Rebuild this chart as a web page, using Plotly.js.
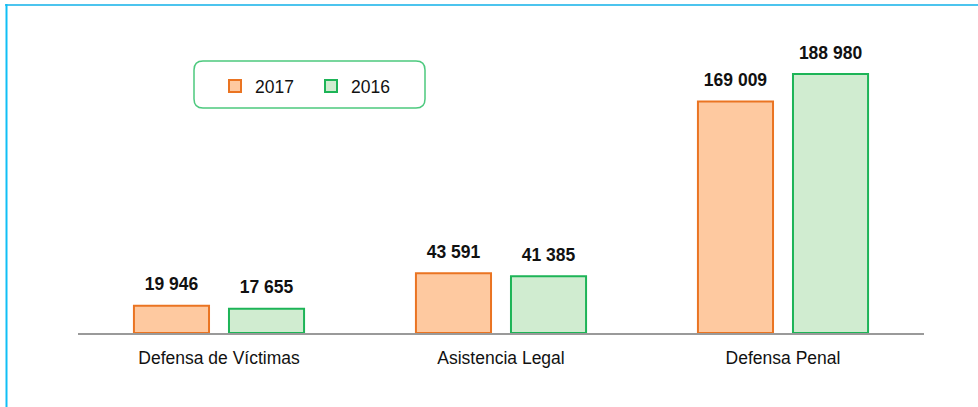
<!DOCTYPE html>
<html>
<head>
<meta charset="utf-8">
<script src="https://cdn.plot.ly/plotly-3.0.1.min.js"></script>
<style>
html,body{margin:0;padding:0;background:#fff;}
#chart{width:978px;height:407px;}
</style>
</head>
<body>
<div id="chart"></div>
<script>
const categories = ["Defensa de Víctimas", "Asistencia Legal", "Defensa Penal"];
const series2017 = [19946, 43591, 169009];
const series2016 = [17655, 41385, 188980];
const seriesNames = ["2017", "2016"];

function fmt(v) {
  return String(v).replace(/\B(?=(\d{3})+(?!\d))/g, " ");
}

const FONT = "Liberation Sans, Arial, sans-serif";
const FS = 17.5;

const bar2017 = {
  type: "bar", name: seriesNames[0], x: categories, y: series2017,
  offsetgroup: "a",
  marker: { color: "#fec9a0", line: { color: "#ea7422", width: 2 } },
  hoverinfo: "skip"
};
const bar2016 = {
  type: "bar", name: seriesNames[1], x: categories, y: series2016,
  offsetgroup: "b",
  marker: { color: "#d0ecd0", line: { color: "#1db457", width: 2 } },
  hoverinfo: "skip"
};
function labelTrace(vals, grp) {
  return {
    type: "scatter", mode: "markers+text", x: categories, y: vals,
    offsetgroup: grp,
    text: vals.map(v => "<b>" + fmt(v) + "</b>"),
    textposition: "top center",
    textfont: { family: FONT, size: FS, color: "#111" },
    marker: { size: 16, color: "rgba(0,0,0,0)" },
    showlegend: false, hoverinfo: "skip", cliponaxis: false
  };
}

// plot area px: x 78..924, y 33..333
const PL = 78, PW = 846, PT = 33, PH = 300;
const px = v => (v - PL) / PW;
const py = v => (PT + PH - v) / PH;

function roundRect(x0, y0, x1, y1, r) {
  const X0 = px(x0), X1 = px(x1), Y0 = py(y0), Y1 = py(y1);
  const rx = r / PW, ry = r / PH;
  return `M${X0+rx},${Y0} L${X1-rx},${Y0} Q${X1},${Y0} ${X1},${Y0-ry} L${X1},${Y1+ry} Q${X1},${Y1} ${X1-rx},${Y1} L${X0+rx},${Y1} Q${X0},${Y1} ${X0},${Y1+ry} L${X0},${Y0-ry} Q${X0},${Y0} ${X0+rx},${Y0} Z`;
}

const layout = {
  width: 978, height: 407,
  margin: { l: PL, r: 978 - PL - PW, t: PT, b: 407 - PT - PH },
  paper_bgcolor: "#fff", plot_bgcolor: "#fff",
  barmode: "group", bargap: 0.326, bargroupgap: 0.21,
  scattermode: "group", scattergap: 0.326,
  font: { family: FONT, size: FS, color: "#111" },
  xaxis: {
    showline: true, linecolor: "#9a9a9a", linewidth: 2,
    ticks: "", ticklabelstandoff: 8,
    tickfont: { family: FONT, size: FS, color: "#111" },
    showgrid: false, zeroline: false, fixedrange: true
  },
  yaxis: {
    range: [0, 219000], visible: false, showgrid: false, zeroline: false, fixedrange: true
  },
  showlegend: true,
  legend: {
    orientation: "h", x: px(215), xanchor: "left", y: py(86), yanchor: "middle",
    bgcolor: "rgba(0,0,0,0)", borderwidth: 0,
    font: { family: FONT, size: FS, color: "#111" },
    entrywidth: 51, entrywidthmode: "pixels", itemwidth: 30, traceorder: "normal"
  },
  shapes: [
    { type: "path", xref: "paper", yref: "paper", path: roundRect(194, 61, 425, 108, 9),
      line: { color: "#4cc97e", width: 1.5 }, fillcolor: "rgba(0,0,0,0)" },
    { type: "line", xref: "paper", yref: "paper", x0: px(5), x1: px(980), y0: py(5), y1: py(5),
      line: { color: "#4cc4ee", width: 2 } },
    { type: "line", xref: "paper", yref: "paper", x0: px(6.5), x1: px(6.5), y0: py(4), y1: py(410),
      line: { color: "#10bff5", width: 2 } }
  ]
};

Plotly.newPlot("chart", [bar2017, bar2016, labelTrace(series2017, "a"), labelTrace(series2016, "b")], layout, { displayModeBar: false, staticPlot: true });
</script>
</body>
</html>
